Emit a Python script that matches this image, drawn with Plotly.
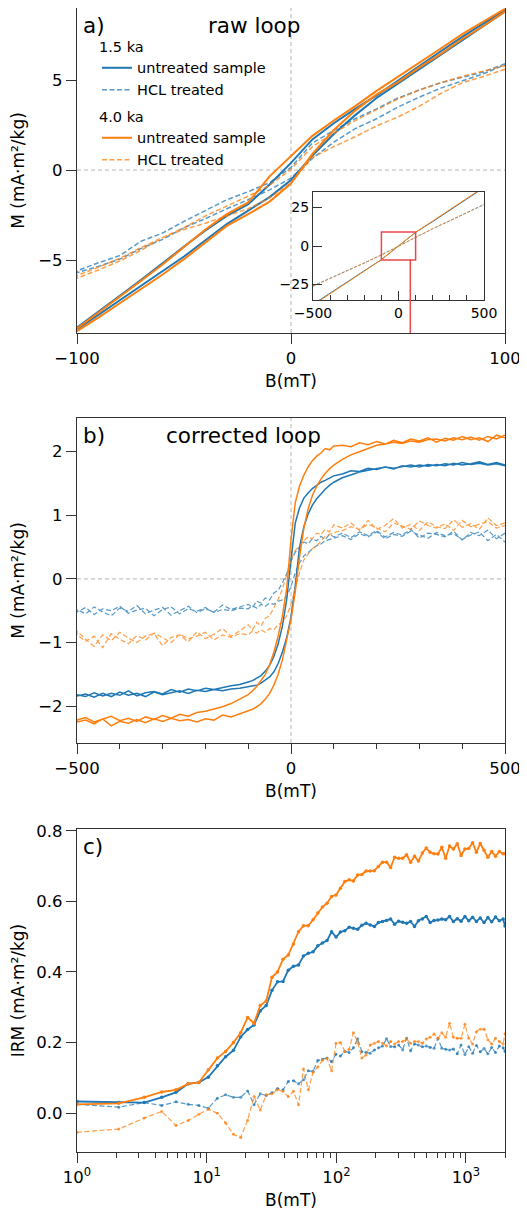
import plotly.graph_objects as go

# ---------------- DATA ----------------
# panel a (raw loop), field grid in mT
B_RAW = [-100, -90, -80, -70, -60, -50, -40, -30, -20, -10, 0, 10, 20, 30, 40, 50, 60, 70, 80, 90, 100]
# descending (upper) and ascending (lower) branches, indexed by B_RAW
RAW_15_UNTR_DESC = [-8.75, -7.85, -6.98, -6.10, -5.20, -4.25, -3.35, -2.55, -1.90, -0.80, 0.40, 1.70, 2.60, 3.40, 4.15, 4.95, 5.80, 6.60, 7.40, 8.15, 8.90]
RAW_15_UNTR_ASC = [-8.85, -8.05, -7.25, -6.45, -5.65, -4.80, -3.90, -3.00, -2.25, -1.50, -0.55, 0.80, 2.00, 3.05, 4.00, 4.80, 5.60, 6.40, 7.20, 7.98, 8.80]
RAW_15_HCL_DESC = [-5.60, -5.15, -4.75, -3.95, -3.50, -2.85, -2.25, -1.65, -1.20, -0.70, 0.15, 1.50, 2.20, 2.85, 3.40, 4.00, 4.45, 4.85, 5.15, 5.45, 5.90]
RAW_15_HCL_ASC = [-5.70, -5.35, -4.95, -4.35, -3.85, -3.20, -2.70, -2.15, -1.65, -1.10, -0.45, 0.65, 1.55, 2.30, 2.85, 3.50, 4.05, 4.55, 4.95, 5.35, 5.85]
RAW_40_UNTR_DESC = [-8.80, -7.95, -7.05, -6.15, -5.25, -4.30, -3.30, -2.45, -1.80, -0.35, 0.75, 1.90, 2.75, 3.55, 4.40, 5.15, 5.97, 6.75, 7.55, 8.25, 8.95]
RAW_40_UNTR_ASC = [-8.95, -8.20, -7.40, -6.60, -5.80, -4.95, -4.00, -3.10, -2.45, -1.75, -0.75, 0.90, 2.22, 3.30, 4.20, 4.88, 5.70, 6.45, 7.28, 8.00, 8.80]
RAW_40_HCL_DESC = [-5.85, -5.40, -4.90, -4.30, -3.75, -3.20, -2.55, -2.00, -1.45, -0.85, 0.05, 1.30, 2.05, 2.75, 3.35, 3.95, 4.45, 4.85, 5.20, 5.50, 5.80]
RAW_40_HCL_ASC = [-6.00, -5.55, -5.05, -4.45, -3.75, -3.30, -2.95, -2.55, -2.15, -1.55, -0.70, 0.70, 1.30, 1.85, 2.45, 2.95, 3.55, 4.25, 4.85, 5.20, 5.60]

# inset (full raw loop, coarse)
B_INSET = [-500, -400, -300, -200, -100, 0, 100, 200, 300, 400, 500]
INS_15_UNTR = [-37.8, -30.5, -23.1, -15.8, -8.8, 0.0, 8.8, 15.8, 23.1, 30.5, 37.8]
INS_15_HCL = [-25.8, -21.0, -16.0, -11.0, -5.7, 0.0, 5.8, 11.1, 16.3, 21.5, 26.8]
INS_40_UNTR = [-38.3, -30.9, -23.5, -16.2, -8.9, 0.1, 8.9, 16.2, 23.5, 30.9, 38.3]
INS_40_HCL = [-26.2, -21.2, -16.2, -11.2, -5.9, -0.1, 5.7, 11.3, 16.5, 21.7, 27.0]

# panel b (corrected loop)
B_CORR = [-500, -480, -460, -440, -420, -400, -380, -360, -340, -320, -300, -280, -260, -240, -220, -200, -180, -160, -140, -120,
          -100, -90, -80, -70, -60, -50, -40, -30, -20, -10, 0, 10, 20, 30, 40, 50, 60, 70, 80, 90, 100,
          120, 140, 160, 180, 200, 220, 240, 260, 280, 300, 320, 340, 360, 380, 400, 420, 440, 460, 480, 500]
COR_15_UNTR_DESC = [-1.82, -1.85, -1.79, -1.84, -1.80, -1.83, -1.76, -1.84, -1.79, -1.77, -1.81, -1.74, -1.78, -1.73, -1.76, -1.72, -1.74, -1.71, -1.68, -1.66,
                    -1.62, -1.60, -1.56, -1.52, -1.45, -1.36, -1.22, -1.02, -0.74, -0.32, 0.30, 0.88, 1.12, 1.27, 1.35, 1.42, 1.47, 1.52, 1.55, 1.58, 1.62,
                    1.65, 1.70, 1.69, 1.74, 1.72, 1.76, 1.73, 1.78, 1.76, 1.79, 1.77, 1.80, 1.78, 1.82, 1.79, 1.81, 1.84, 1.80, 1.83, 1.79]
COR_15_UNTR_ASC = [-1.84, -1.81, -1.86, -1.80, -1.85, -1.78, -1.83, -1.80, -1.85, -1.78, -1.82, -1.79, -1.76, -1.80, -1.75, -1.77, -1.74, -1.76, -1.73, -1.72,
                   -1.70, -1.69, -1.67, -1.64, -1.59, -1.54, -1.46, -1.33, -1.15, -0.92, -0.60, -0.10, 0.50, 0.82, 1.02, 1.16, 1.26, 1.34, 1.41, 1.47, 1.52,
                   1.59, 1.64, 1.68, 1.71, 1.73, 1.76, 1.74, 1.77, 1.79, 1.76, 1.80, 1.78, 1.81, 1.79, 1.83, 1.80, 1.82, 1.79, 1.81, 1.78]
COR_15_HCL_DESC = [-0.48, -0.55, -0.44, -0.52, -0.58, -0.46, -0.51, -0.42, -0.55, -0.49, -0.45, -0.57, -0.50, -0.43, -0.53, -0.47, -0.52, -0.41, -0.48, -0.44,
                   -0.40, -0.45, -0.35, -0.38, -0.30, -0.33, -0.22, -0.18, -0.06, 0.08, 0.28, 0.42, 0.50, 0.58, 0.55, 0.63, 0.60, 0.67, 0.62, 0.70, 0.66,
                   0.72, 0.65, 0.74, 0.68, 0.76, 0.66, 0.73, 0.69, 0.78, 0.64, 0.72, 0.70, 0.66, 0.75, 0.61, 0.73, 0.68, 0.77, 0.63, 0.72]
COR_15_HCL_ASC = [-0.52, -0.45, -0.56, -0.47, -0.50, -0.43, -0.54, -0.49, -0.46, -0.58, -0.48, -0.44, -0.55, -0.47, -0.51, -0.45, -0.53, -0.48, -0.50, -0.46,
                  -0.47, -0.42, -0.46, -0.40, -0.43, -0.38, -0.40, -0.35, -0.33, -0.28, -0.12, 0.10, 0.25, 0.36, 0.42, 0.47, 0.52, 0.55, 0.60, 0.62, 0.64,
                  0.68, 0.62, 0.71, 0.66, 0.74, 0.63, 0.70, 0.67, 0.75, 0.69, 0.64, 0.73, 0.68, 0.71, 0.62, 0.69, 0.74, 0.60, 0.70, 0.58]
COR_40_UNTR_DESC = [-2.22, -2.18, -2.25, -2.20, -2.16, -2.23, -2.19, -2.24, -2.17, -2.21, -2.15, -2.19, -2.13, -2.16, -2.10, -2.08, -2.05, -2.01, -1.96, -1.89,
                    -1.82, -1.76, -1.69, -1.60, -1.50, -1.35, -1.15, -0.90, -0.58, -0.15, 0.62, 1.20, 1.46, 1.63, 1.76, 1.86, 1.93, 1.98, 2.05, 2.03, 2.09,
                    2.10, 2.08, 2.14, 2.11, 2.16, 2.12, 2.18, 2.14, 2.20, 2.17, 2.22, 2.15, 2.21, 2.18, 2.24, 2.19, 2.22, 2.16, 2.26, 2.22]
COR_40_UNTR_ASC = [-2.25, -2.22, -2.28, -2.20, -2.31, -2.24, -2.27, -2.21, -2.26, -2.20, -2.24, -2.19, -2.23, -2.21, -2.25, -2.20, -2.22, -2.14, -2.17, -2.12,
                   -2.07, -2.05, -2.01, -1.96, -1.89, -1.80, -1.67, -1.50, -1.27, -0.98, -0.64, -0.20, 0.35, 0.80, 1.10, 1.31, 1.46, 1.57, 1.66, 1.73, 1.79,
                   1.88, 1.95, 2.00, 2.05, 2.10, 2.12, 2.15, 2.13, 2.17, 2.15, 2.19, 2.20, 2.17, 2.22, 2.19, 2.23, 2.18, 2.24, 2.20, 2.26]
COR_40_HCL_DESC = [-0.82, -0.95, -1.06, -0.88, -0.97, -0.84, -0.93, -1.00, -0.90, -0.86, -1.05, -0.92, -0.88, -0.99, -0.83, -0.94, -0.87, -0.78, -0.90, -0.82,
                   -0.72, -0.80, -0.68, -0.74, -0.62, -0.58, -0.45, -0.32, -0.16, 0.05, 0.30, 0.45, 0.52, 0.60, 0.66, 0.63, 0.72, 0.70, 0.78, 0.74, 0.85,
                   0.80, 0.88, 0.76, 0.92, 0.78, 0.84, 0.95, 0.80, 0.86, 0.76, 0.90, 0.82, 0.79, 0.93, 0.81, 0.87, 0.78, 0.96, 0.84, 0.88]
COR_40_HCL_ASC = [-0.88, -0.98, -0.90, -1.08, -0.86, -0.95, -1.02, -0.89, -0.96, -0.85, -0.93, -1.00, -0.87, -0.94, -0.90, -0.84, -0.96, -0.88, -0.92, -0.86,
                  -0.88, -0.82, -0.85, -0.80, -0.84, -0.78, -0.80, -0.72, -0.68, -0.58, -0.40, -0.15, 0.10, 0.30, 0.40, 0.48, 0.52, 0.60, 0.67, 0.70, 0.73,
                  0.76, 0.82, 0.78, 0.86, 0.80, 0.74, 0.88, 0.83, 0.78, 0.91, 0.84, 0.80, 0.87, 0.76, 0.92, 0.82, 0.86, 0.90, 0.80, 0.84]

# panel c (IRM acquisition)
B_IRM = [1.0, 2.1, 3.3, 4.5, 5.8, 7.2, 8.7, 10.3, 12.1, 14.0, 16.1, 18.3, 20.7, 23.2, 25.9, 28.8, 31.9, 35.2, 38.8, 42.6,
         46.7, 51.1, 55.8, 60.8, 66.2, 72.0, 78.2, 84.8, 91.9, 99.5, 107.6, 116.3, 125.6, 135.5, 146.1, 157.5, 169.6, 182.6, 196.5, 211.3,
         227.2, 244.2, 262.3, 281.7, 302.5, 324.7, 348.4, 373.8, 400.9, 429.9, 460.9, 494.0, 529.4, 567.3, 607.8, 651.1, 697.4, 746.9, 799.8, 856.4,
         916.9, 981.6, 1050.8, 1124.8, 1203.9, 1288.5, 1379.0, 1475.7, 1579.1, 1689.7, 1808.0, 1934.5, 2000.0]
IRM_15_UNTR = [0.033, 0.030, 0.030, 0.045, 0.059, 0.083, 0.087, 0.102, 0.134, 0.160, 0.178, 0.216, 0.237, 0.250, 0.290, 0.305, 0.348, 0.372, 0.373, 0.405,
               0.416, 0.420, 0.445, 0.453, 0.457, 0.474, 0.482, 0.489, 0.514, 0.499, 0.513, 0.517, 0.527, 0.524, 0.521, 0.532, 0.538, 0.533, 0.529, 0.540,
               0.543, 0.546, 0.550, 0.535, 0.544, 0.541, 0.538, 0.543, 0.529, 0.545, 0.550, 0.557, 0.540, 0.546, 0.547, 0.550, 0.548, 0.557, 0.543, 0.551,
               0.544, 0.557, 0.545, 0.555, 0.543, 0.553, 0.540, 0.554, 0.542, 0.556, 0.545, 0.550, 0.530]
IRM_15_HCL = [0.025, 0.017, 0.030, 0.022, 0.032, 0.025, 0.022, 0.014, 0.042, 0.052, 0.045, 0.045, 0.063, 0.024, 0.055, 0.050, 0.058, 0.070, 0.066, 0.090,
              0.092, 0.083, 0.095, 0.120, 0.119, 0.149, 0.153, 0.156, 0.146, 0.167, 0.162, 0.175, 0.172, 0.185, 0.211, 0.174, 0.172, 0.170, 0.179, 0.185,
              0.190, 0.211, 0.189, 0.188, 0.193, 0.180, 0.212, 0.177, 0.196, 0.193, 0.188, 0.190, 0.186, 0.184, 0.212, 0.184, 0.181, 0.179, 0.182, 0.168,
              0.193, 0.166, 0.188, 0.170, 0.192, 0.174, 0.183, 0.168, 0.186, 0.172, 0.190, 0.185, 0.175]
IRM_40_UNTR = [0.025, 0.028, 0.045, 0.060, 0.066, 0.083, 0.087, 0.123, 0.156, 0.175, 0.200, 0.228, 0.271, 0.255, 0.305, 0.318, 0.385, 0.400, 0.436, 0.448,
               0.479, 0.514, 0.531, 0.531, 0.548, 0.567, 0.584, 0.595, 0.614, 0.618, 0.637, 0.656, 0.661, 0.658, 0.675, 0.676, 0.686, 0.686, 0.687, 0.699,
               0.711, 0.711, 0.696, 0.725, 0.722, 0.722, 0.732, 0.711, 0.728, 0.714, 0.737, 0.751, 0.739, 0.735, 0.734, 0.753, 0.722, 0.757, 0.748, 0.763,
               0.730, 0.748, 0.750, 0.766, 0.739, 0.764, 0.745, 0.725, 0.741, 0.728, 0.741, 0.735, 0.735]
IRM_40_HCL = [-0.054, -0.045, -0.014, 0.005, -0.035, -0.021, -0.003, 0.011, 0.000, -0.028, -0.060, -0.069, -0.020, 0.047, 0.009, 0.052, 0.055, 0.066, 0.062, 0.047,
              0.062, 0.024, 0.125, 0.066, 0.116, 0.131, 0.150, 0.155, 0.120, 0.198, 0.200, 0.175, 0.181, 0.228, 0.200, 0.156, 0.165, 0.193, 0.198, 0.203,
              0.198, 0.191, 0.203, 0.196, 0.203, 0.203, 0.210, 0.198, 0.203, 0.203, 0.198, 0.210, 0.215, 0.224, 0.212, 0.228, 0.215, 0.255, 0.215, 0.212,
              0.212, 0.252, 0.212, 0.196, 0.231, 0.238, 0.238, 0.208, 0.196, 0.212, 0.203, 0.196, 0.225]

LEGEND_TITLES = ["1.5 ka", "4.0 ka"]
LEGEND_LABELS = ["untreated sample", "HCL treated"]
TICK_A_X = [-100, 0, 100]
TICK_A_Y = [-5, 0, 5]
TICK_IN_X = [-500, 0, 500]
TICK_IN_Y = [-25, 0, 25]
TICK_B_X = [-500, 0, 500]
TICK_B_Y = [-2, -1, 0, 1, 2]
TICK_C_X = [1, 10, 100, 1000]
TICK_C_X_TEXT = ["10<sup>0</sup>", "10<sup>1</sup>", "10<sup>2</sup>", "10<sup>3</sup>"]
MINOR_C_X = [2, 3, 4, 5, 6, 7, 8, 9, 20, 30, 40, 50, 60, 70, 80, 90, 200, 300, 400, 500, 600, 700, 800, 900, 2000]
TICK_C_Y = [0.0, 0.2, 0.4, 0.6, 0.8]

RANGE_A_X = [-100, 100]
RANGE_A_Y = [-9.05, 9.0]

# ---------------- STYLE ----------------
PAGE_W, PAGE_H = 527, 1213
OFF = 8  # default page body margin
W, H = PAGE_W - OFF, PAGE_H - OFF
FONT = "DejaVu Sans"
BLUE = "#1f77b4"
ORANGE = "#ff7f0e"
BLUE_D = "rgba(31,119,180,0.75)"
ORANGE_D = "rgba(255,127,14,0.75)"
AXC = "#333333"
ZERO = "#b5b5b5"


def px(x):
    return (x - OFF) / W


def py(y):
    return 1 - (y - OFF) / H


def dom_x(a, b):
    return [px(a), px(b)]


def dom_y(top, bottom):
    return [py(bottom), py(top)]


def loop(bgrid, desc, asc):
    xs = list(reversed(bgrid)) + list(bgrid)
    ys = list(reversed(desc)) + list(asc)
    return xs, ys


fig = go.Figure()

series = [
    (LEGEND_LABELS[0], BLUE, "solid", "legend",
     RAW_15_UNTR_DESC, RAW_15_UNTR_ASC, INS_15_UNTR, COR_15_UNTR_DESC, COR_15_UNTR_ASC, IRM_15_UNTR),
    (LEGEND_LABELS[1], BLUE_D, "5px,2.5px", "legend",
     RAW_15_HCL_DESC, RAW_15_HCL_ASC, INS_15_HCL, COR_15_HCL_DESC, COR_15_HCL_ASC, IRM_15_HCL),
    (LEGEND_LABELS[0], ORANGE, "solid", "legend2",
     RAW_40_UNTR_DESC, RAW_40_UNTR_ASC, INS_40_UNTR, COR_40_UNTR_DESC, COR_40_UNTR_ASC, IRM_40_UNTR),
    (LEGEND_LABELS[1], ORANGE_D, "5px,2.5px", "legend2",
     RAW_40_HCL_DESC, RAW_40_HCL_ASC, INS_40_HCL, COR_40_HCL_DESC, COR_40_HCL_ASC, IRM_40_HCL),
]

for label, color, dash, leg, rd, ra, ins, cd, ca, irm in series:
    solid = dash == "solid"
    xs, ys = loop(B_RAW, rd, ra)
    fig.add_trace(go.Scatter(x=xs, y=ys, mode="lines", name=label, legend=leg,
                             line=dict(color=color, width=2.0 if solid else 1.5, dash=dash),
                             xaxis="x", yaxis="y", showlegend=True, hoverinfo="skip"))
    fig.add_trace(go.Scatter(x=B_INSET, y=ins, mode="lines",
                             line=dict(color=color, width=1.0, dash="solid" if solid else "3px,1.5px"),
                             xaxis="x2", yaxis="y2", showlegend=False, hoverinfo="skip"))
    xs, ys = loop(B_CORR, cd, ca)
    fig.add_trace(go.Scatter(x=xs, y=ys, mode="lines",
                             line=dict(color=color, width=1.5 if solid else 1.2, dash=dash),
                             xaxis="x3", yaxis="y3", showlegend=False, hoverinfo="skip"))
    fig.add_trace(go.Scatter(x=B_IRM, y=irm, mode="lines+markers",
                             line=dict(color=color, width=1.8 if solid else 1.2, dash=dash),
                             marker=dict(color=color, size=3.5 if solid else 3),
                             xaxis="x4", yaxis="y4", showlegend=False, hoverinfo="skip"))

tickfont = dict(family=FONT, size=16.5, color="black")
titlefont = dict(family=FONT, size=17, color="black")
common = dict(showline=True, mirror=True, linecolor=AXC, linewidth=1.2, showgrid=False,
              zeroline=False, ticks="outside", ticklen=10, tickwidth=1.2, tickcolor=AXC,
              tickfont=tickfont, automargin=False)
inset_common = dict(showline=True, mirror=True, linecolor=AXC, linewidth=1.2, showgrid=False,
                    zeroline=False, ticks="inside", ticklen=9, tickwidth=1.2, tickcolor=AXC,
                    tickfont=dict(family=FONT, size=14, color="black"), automargin=False)

fig.update_layout(
    width=W, height=H,
    margin=dict(l=0, r=0, t=0, b=0, autoexpand=False),
    paper_bgcolor="white", plot_bgcolor="white",
    font=dict(family=FONT, color="black"),
    xaxis=dict(domain=dom_x(77, 505), range=RANGE_A_X, tickmode="array", tickvals=TICK_A_X,
               anchor="y", title=dict(text="B(mT)", font=titlefont, standoff=8), **common),
    yaxis=dict(domain=dom_y(8, 333), range=RANGE_A_Y, tickmode="array", tickvals=TICK_A_Y,
               anchor="x", title=dict(text="M (mA·m²/kg)", font=titlefont, standoff=12), **common),
    xaxis2=dict(domain=dom_x(313, 484), range=[-500, 500], tickmode="array", tickvals=TICK_IN_X,
                anchor="y2",
                minor=dict(tickmode="linear", tick0=0, dtick=100, ticks="inside", ticklen=5, tickwidth=1.1, tickcolor=AXC),
                **inset_common),
    yaxis2=dict(domain=dom_y(192, 300), range=[-35, 35], tickmode="array", tickvals=TICK_IN_Y,
                anchor="x2", **inset_common),
    xaxis3=dict(domain=dom_x(77, 505), range=[-500, 500], tickmode="array", tickvals=TICK_B_X,
                anchor="y3", title=dict(text="B(mT)", font=titlefont, standoff=8),
                minor=dict(tickmode="linear", tick0=0, dtick=100, ticks="outside", ticklen=5, tickwidth=1.1, tickcolor=AXC),
                **common),
    yaxis3=dict(domain=dom_y(418, 743), range=[-2.58, 2.53], tickmode="array", tickvals=TICK_B_Y,
                anchor="x3", title=dict(text="M (mA·m²/kg)", font=titlefont, standoff=12), **common),
    xaxis4=dict(domain=dom_x(77, 505), type="log", range=[0, 3.301], tickmode="array",
                tickvals=TICK_C_X, ticktext=TICK_C_X_TEXT, anchor="y4",
                title=dict(text="B(mT)", font=titlefont, standoff=8),
                minor=dict(tickmode="array", tickvals=MINOR_C_X, ticks="outside", ticklen=5, tickwidth=1.1, tickcolor=AXC),
                **common),
    yaxis4=dict(domain=dom_y(829, 1152), range=[-0.11, 0.805], tickmode="array", tickvals=TICK_C_Y,
                tickformat=".1f", anchor="x4",
                title=dict(text="IRM (mA·m²/kg)", font=titlefont, standoff=9), **common),
    legend=dict(title=dict(text=LEGEND_TITLES[0], font=dict(family=FONT, size=14.5)),
                x=px(97), y=py(33), xanchor="left", yanchor="top",
                bgcolor="rgba(0,0,0,0)", font=dict(family=FONT, size=14.5, color="black"),
                itemclick=False, itemdoubleclick=False),
    legend2=dict(title=dict(text=LEGEND_TITLES[1], font=dict(family=FONT, size=14.5)),
                 x=px(97), y=py(103), xanchor="left", yanchor="top",
                 bgcolor="rgba(0,0,0,0)", font=dict(family=FONT, size=14.5, color="black"),
                 itemclick=False, itemdoubleclick=False),
)

# zero reference lines
zl = dict(color=ZERO, width=1, dash="4px,3px")
for xr, yr in [("x", "y"), ("x2", "y2"), ("x3", "y3")]:
    fig.add_shape(type="line", xref=xr, yref=yr + " domain", x0=0, x1=0, y0=0, y1=1, line=zl, layer="below")
    fig.add_shape(type="line", xref=xr + " domain", yref=yr, x0=0, x1=1, y0=0, y1=0, line=zl, layer="below")

# zoom box in inset and connector
RED = "#e8474c"
fig.add_shape(type="rect", xref="x2", yref="y2", x0=RANGE_A_X[0], x1=RANGE_A_X[1],
              y0=RANGE_A_Y[0], y1=RANGE_A_Y[1], line=dict(color=RED, width=1.5))
fig.add_shape(type="line", xref="paper", yref="paper", x0=px(410.3), x1=px(410.3),
              y0=py(333), y1=py(259.5), line=dict(color=RED, width=1.5))

# panel labels / titles
labfont = dict(family=FONT, size=21.5, color="black")
for xr, yr, txt, xx, anchor in [("x", "y", "a)", 0.01, "left"), ("x3", "y3", "b)", 0.01, "left"),
                                ("x4", "y4", "c)", 0.01, "left"),
                                ("x", "y", "raw loop", 0.414, "center"),
                                ("x3", "y3", "corrected loop", 0.388, "center")]:
    fig.add_annotation(xref=xr + " domain", yref=yr + " domain", x=xx, y=0.99, text=txt,
                       showarrow=False, font=labfont, xanchor=anchor, yanchor="top")

fig.write_html("out.html")
